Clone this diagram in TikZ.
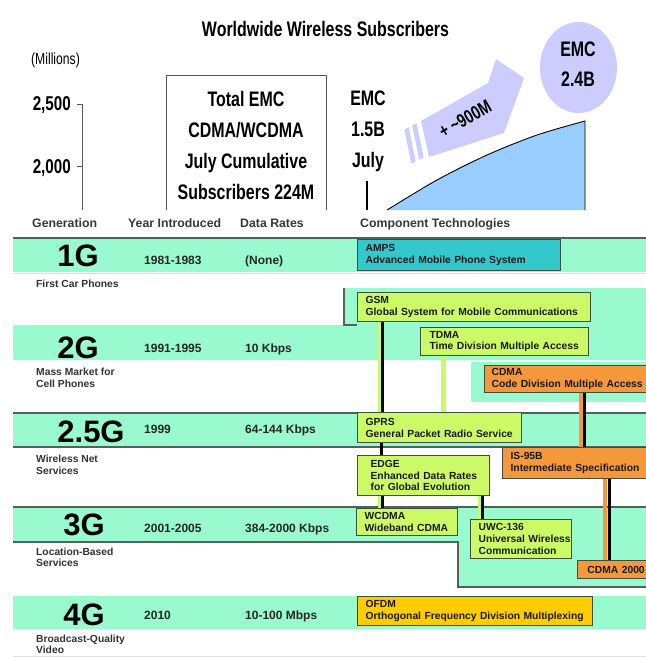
\documentclass[tikz,border=0pt]{standalone}
\usepackage{fontspec}
\setmainfont{Liberation Sans}
\newfontfamily\narrowf[FakeStretch=0.76]{Liberation Sans}
\usetikzlibrary{shapes.geometric}
\definecolor{bandgreen}{RGB}{153,250,208}
\definecolor{bandedge}{RGB}{80,98,90}
\definecolor{boxedge}{RGB}{60,78,60}
\definecolor{ampsteal}{RGB}{51,200,204}
\definecolor{limeg}{RGB}{204,250,102}
\definecolor{orangeb}{RGB}{245,152,60}
\definecolor{goldb}{RGB}{255,204,0}
\definecolor{lav}{RGB}{204,204,255}
\definecolor{skyb}{RGB}{153,204,255}
\definecolor{axisgray}{RGB}{85,85,85}
\newcommand\cmpfnt{\fontsize{10.3}{11.8}\selectfont\bfseries\hyphenpenalty=10000\exhyphenpenalty=10000}
\newcommand\hdrfnt{\fontsize{12.3}{14}\selectfont\bfseries}
\newcommand\genfnt{\fontsize{31}{31}\selectfont\bfseries}
\newcommand\rowfnt{\fontsize{12}{14}\selectfont\bfseries}
\newcommand\titlefnt{\narrowf\fontsize{21}{25}\selectfont\bfseries}
\newcommand\boxfnt{\narrowf\fontsize{21}{31}\selectfont\bfseries}
\newcommand\ellfnt{\narrowf\fontsize{21}{30}\selectfont\bfseries}
\newcommand\millfnt{\narrowf\fontsize{16}{18}\selectfont}
\newcommand\tickfnt{\narrowf\fontsize{20}{22}\selectfont\bfseries}
\newcommand\arrfnt{\narrowf\fontsize{19}{19}\selectfont\bfseries}
\begin{document}
\begin{tikzpicture}[x=1pt,y=-1pt,
  bandline/.style={draw=bandedge, line width=1.3pt},
  lightline/.style={draw=black!12, line width=1pt},
  comp/.style={draw=boxedge, line width=1.2pt, anchor=north west, inner ysep=0pt,
    inner xsep=8pt, align=left, font=\cmpfnt, text=black!90},
  hdr/.style={anchor=base west, inner sep=0pt, font=\hdrfnt, text=black!78},
  gen/.style={anchor=base, inner sep=0pt, font=\genfnt},
  rowtxt/.style={anchor=base west, inner sep=0pt, font=\rowfnt, text=black!85},
  sublbl/.style={anchor=north west, inner sep=0pt, align=left, font=\cmpfnt, text=black!80},
  chartline/.style={draw=axisgray, line width=0.9pt},
  gbar/.style={draw=limeg, line width=3pt},
  obar/.style={draw=orangeb, line width=4pt},
  kbar/.style={draw=black, line width=3pt},
]
\useasboundingbox (0,0) rectangle (646,657);
\fill[white] (0,0) rectangle (646,657);

% ---------------- top chart ----------------
\node[anchor=base, inner sep=0pt, font=\titlefnt] (title) at (325.5,36.7) {Worldwide Wireless Subscribers};
\node[anchor=base west, inner sep=0pt, font=\millfnt] (mill) at (31,64) {(Millions)};
\node[anchor=base east, inner sep=0pt, font=\tickfnt] (t2500) at (71,110.5) {2,500};
\node[anchor=base east, inner sep=0pt, font=\tickfnt] (t2000) at (71,173.5) {2,000};
\coordinate (axtop) at (82,104);
\coordinate (axbot) at (82,210);
\draw[chartline] (axtop) -- (axbot);
\draw[chartline] (axtop) -- ++(-5,0);
\draw[chartline] (82,166) -- ++(-5,0);

% blue area
\fill[skyb] plot[smooth] coordinates {(387,210) (437,180) (487,155) (537,135) (585,121)} -- (585,210) -- cycle;
\draw[black, line width=0.9pt] plot[smooth] coordinates {(387,210) (437,180) (487,155) (537,135) (585,121)} -- (585,210);

% box
\draw[chartline, line width=1pt] (166,210) -- (166,75) -- (326,75) -- (326,210);
\node[anchor=north, align=center, inner sep=0pt, font=\boxfnt] (boxtxt) at (246,90.7)
  {Total EMC\\CDMA/WCDMA\\July Cumulative\\Subscribers 224M};
\node[anchor=north, align=center, inner sep=0pt, font=\boxfnt] (emc15) at (368,90.7) {EMC\\1.5B\\July};
\coordinate (jbar) at (367,181);
\draw[black, line width=1.8pt] (jbar) -- ++(0,29);

% arrow
\fill[lav] (421,121) -- (488,83) -- (496,59) -- (524,78) -- (504,133) -- (429,157) -- cycle;
\fill[lav] (416.6,123.3) -- (412.2,125.5) -- (419.2,159.5) -- (423.6,157.3) -- cycle;
\fill[lav] (408.7,127.3) -- (404.3,129.6) -- (411.3,163.6) -- (415.7,161.3) -- cycle;
\node[rotate=30, inner sep=0pt, font=\arrfnt] (plus) at (465,119) {+ \textasciitilde900M};

% ellipse
\node[ellipse, fill=lav, minimum width=77, minimum height=91, inner sep=0pt] (emcell) at (578.5,67.5) {};
\node[anchor=north, align=center, inner sep=0pt, font=\ellfnt] (emc24) at (578,41.7) {EMC\\2.4B};

% ---------------- table ----------------
\node[hdr] (hgen) at (32,227) {Generation};
\node[hdr] (hyear) at (128,227) {Year Introduced};
\node[hdr] (hrate) at (240,227) {Data Rates};
\node[hdr] (hcomp) at (360,227) {Component Technologies};

% bands
\fill[bandgreen] (13,238) rectangle (647,272);
\fill[bandgreen] (13,325) -- (344,325) -- (344,288) -- (647,288) -- (647,360) -- (13,360) -- cycle;
\fill[bandgreen] (471,362) rectangle (647,402);
\fill[bandgreen] (13,413) rectangle (647,447);
\fill[bandgreen] (13,507) -- (647,507) -- (647,587) -- (458,587) -- (458,542) -- (13,542) -- cycle;
\fill[bandgreen] (13,596) rectangle (647,629);

\draw[bandline] (13,238) -- (647,238);
\draw[bandline] (344,288) -- (344,325) -- (357,325);
\draw[bandline] (13,413) -- (647,413);
\draw[bandline] (13,447) -- (647,447);
\draw[bandline] (13,507) -- (647,507);
\draw[bandline] (13,542) -- (458,542) -- (458,587) -- (647,587);
\draw[lightline] (13,273.5) -- (647,273.5);
\draw[lightline] (13,656.3) -- (647,656.3);

% generation labels
\node[gen] (g1) at (78,266.5) {1G};
\node[gen] (g2) at (78,358) {2G};
\node[gen] (g25) at (91,442) {2.5G};
\node[gen] (g3) at (84,535) {3G};
\node[gen] (g4) at (84,625) {4G};

% years and rates
\node[rowtxt] (y1) at (144,264.5) {1981-1983};
\node[rowtxt] (r1) at (245,264.5) {(None)};
\node[rowtxt] (y2) at (144,352) {1991-1995};
\node[rowtxt] (r2) at (245,352) {10 Kbps};
\node[rowtxt] (y25) at (144,433) {1999};
\node[rowtxt] (r25) at (245,433) {64-144 Kbps};
\node[rowtxt] (y3) at (144,532) {2001-2005};
\node[rowtxt] (r3) at (245,532) {384-2000 Kbps};
\node[rowtxt] (y4) at (144,619) {2010};
\node[rowtxt] (r4) at (245,619) {10-100 Mbps};

% sub labels
\node[sublbl] (s1) at (36,280) {First Car Phones};
\node[sublbl] (s2) at (36,368) {Mass Market for\\Cell Phones};
\node[sublbl] (s25) at (36,455) {Wireless Net\\Services};
\node[sublbl] (s3) at (36,547.5) {Location-Based\\Services};
\node[sublbl, font=\fontsize{10.3}{11.2}\selectfont\bfseries] (s4) at (36,635) {Broadcast-Quality\\Video};

% component boxes
\node[comp, fill=ampsteal, minimum width=203, minimum height=31, text width=187] (amps) at (357,239)
  {AMPS\\Advanced~Mobile~Phone~System};
\node[comp, fill=limeg, minimum width=233, minimum height=29, text width=217] (gsm) at (357,292)
  {GSM\\Global~System~for~Mobile~Communications};
\node[comp, fill=limeg, inner xsep=9pt, minimum width=168, minimum height=28, text width=150] (tdma) at (420,327)
  {TDMA\\Time~Division~Multiple~Access};
\node[comp, fill=orangeb, inner xsep=7pt, minimum width=172, minimum height=27, text width=158] (cdma) at (484,365)
  {CDMA\\Code~Division~Multiple~Access};
\node[comp, fill=limeg, minimum width=164, minimum height=30, text width=148] (gprs) at (357,412)
  {GPRS\\General~Packet~Radio~Service};
\node[comp, fill=limeg, inner xsep=13pt, minimum width=132, minimum height=40, text width=106] (edge) at (357,455)
  {EDGE\\Enhanced~Data~Rates\\for~Global~Evolution};
\node[comp, fill=orangeb, minimum width=152, minimum height=31, text width=136] (is95) at (502,447)
  {IS-95B\\Intermediate~Specification};
\node[comp, fill=limeg, minimum width=101, minimum height=27, text width=85] (wcdma) at (356,508)
  {WCDMA\\Wideband~CDMA};
\node[comp, fill=limeg, minimum width=101, minimum height=39, text width=85] (uwc) at (470,519)
  {UWC-136\\\mbox{Universal Wireless}\\Communication};
\node[comp, fill=orangeb, align=center, minimum width=77, minimum height=18, text width=61] (c2000) at (577,560)
  {CDMA~2000};
\node[comp, fill=goldb, minimum width=235, minimum height=29, text width=219] (ofdm) at (357,596)
  {OFDM\\Orthogonal~Frequency~Division~Multiplexing};

% connectors
\draw[gbar] ([xshift=22.5]gsm.south west) -- ([xshift=22.5]gprs.north west);
\draw[kbar] ([xshift=25.5]gsm.south west) -- ([xshift=25.5]gprs.north west);
\draw[draw=limeg, line width=5pt] ([xshift=23.5]tdma.south west) -- ([xshift=86.5]gprs.north west);
\draw[obar] ([xshift=96.5]cdma.south west) -- ([xshift=78.5]is95.north west);
\draw[kbar] ([xshift=100.5]cdma.south west) -- ([xshift=82.5]is95.north west);
\draw[kbar] ([xshift=24.5]gprs.south west) -- ([xshift=24.5]edge.north west);
\draw[gbar] ([xshift=22.5]edge.south west) -- ([xshift=23.5]wcdma.north west);
\draw[kbar] ([xshift=25.5]edge.south west) -- ([xshift=26.5]wcdma.north west);
\draw[gbar] ([xshift=122.5]edge.south west) -- ([xshift=9.5]uwc.north west);
\draw[kbar] ([xshift=125.5]edge.south west) -- ([xshift=12.5]uwc.north west);
\draw[obar] ([xshift=103]is95.south west) -- ([xshift=28]c2000.north west);
\draw[kbar] ([xshift=107]is95.south west) -- ([xshift=32]c2000.north west);
\end{tikzpicture}
\end{document}
